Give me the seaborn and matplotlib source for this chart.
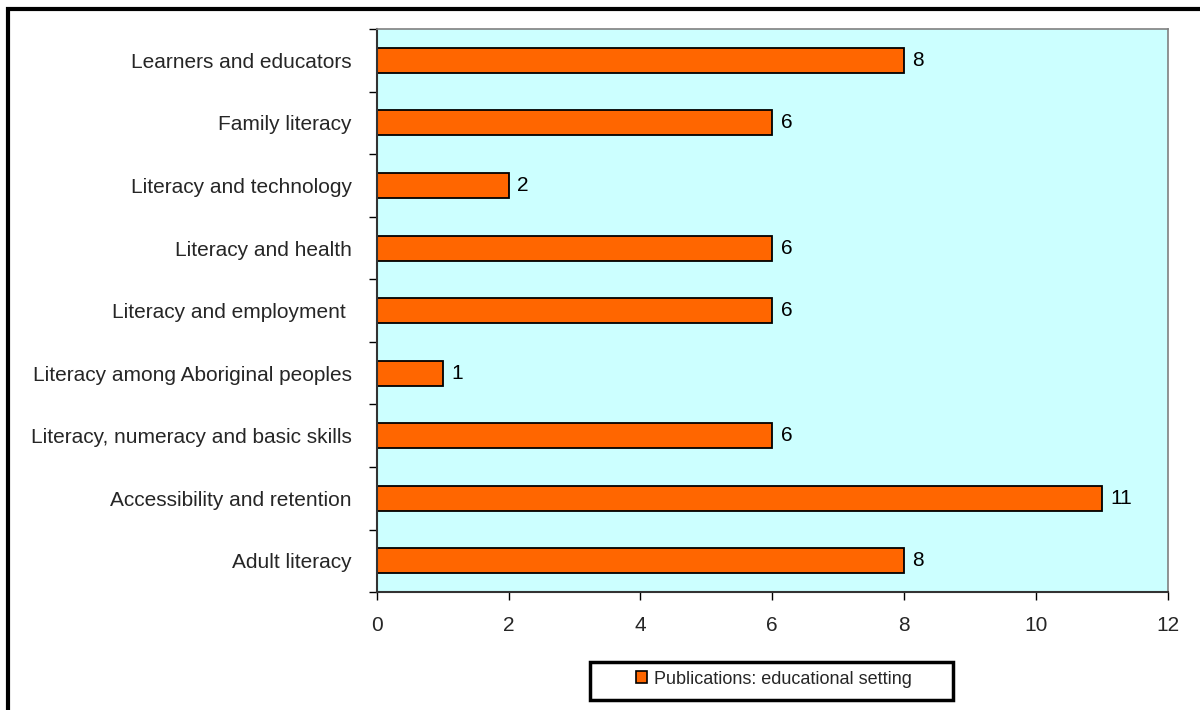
import matplotlib
matplotlib.use("Agg")
import matplotlib.pyplot as plt
import seaborn as sns
import pandas as pd
from matplotlib.patches import Rectangle, Patch
from matplotlib.ticker import FixedLocator

categories = [
    "Learners and educators",
    "Family literacy",
    "Literacy and technology",
    "Literacy and health",
    "Literacy and employment ",
    "Literacy among Aboriginal peoples",
    "Literacy, numeracy and basic skills",
    "Accessibility and retention",
    "Adult literacy",
]
values = [8, 6, 2, 6, 6, 1, 6, 11, 8]
series_name = "Publications: educational setting"
x_ticks = [0, 2, 4, 6, 8, 10, 12]

bar_color = "#FF6600"
plot_bg = "#CCFFFF"
fs = 15

sns.set_theme(style="white")
plt.rcParams["font.family"] = ["Liberation Sans", "DejaVu Sans"]
plt.rcParams["font.size"] = fs

df = pd.DataFrame({"category": categories, "value": values})

fig = plt.figure(figsize=(12, 7.1), dpi=100)
ax = fig.add_axes([0.314, 0.166, 0.659, 0.793])

sns.barplot(data=df, y="category", x="value", order=categories,
            color=bar_color, saturation=1, width=0.4,
            edgecolor="black", linewidth=1.3, ax=ax)

ax.set_facecolor(plot_bg)
ax.set_xlim(0, 12)
ax.set_ylim(len(categories) - 0.5, -0.5)
ax.set_xlabel("")
ax.set_ylabel("")
ax.set_xticks(x_ticks)
ax.set_xticklabels([str(t) for t in x_ticks], fontsize=fs)
ax.tick_params(axis="x", direction="out", length=6, width=1, color="black", pad=11, bottom=True)
ax.tick_params(axis="y", which="major", length=0, pad=18, labelsize=fs)
ax.yaxis.set_minor_locator(FixedLocator([i - 0.5 for i in range(len(categories) + 1)]))
ax.tick_params(axis="y", which="minor", direction="out", length=6, width=1, color="black", left=True)

for side in ["left", "bottom"]:
    ax.spines[side].set_color("#333333")
    ax.spines[side].set_linewidth(1.5)
for side in ["right", "top"]:
    ax.spines[side].set_color("#808080")
    ax.spines[side].set_linewidth(1.2)

for i, v in enumerate(values):
    ax.annotate(str(v), xy=(v, i), xytext=(6, 0), textcoords="offset points",
                va="center", ha="left", fontsize=fs, color="black")

# legend: wide boxed frame beneath the plot area
fig.patches.append(Rectangle((590 / 1200, 1 - 700 / 710), 363 / 1200, 38 / 710,
                             transform=fig.transFigure, facecolor="white",
                             edgecolor="black", linewidth=2.5, zorder=5))
handle = Patch(facecolor=bar_color, edgecolor="black", linewidth=1.2)
leg = fig.legend([handle], [series_name], loc="center",
                 bbox_to_anchor=(774 / 1200, 1 - 679 / 710), frameon=False,
                 fontsize=13, handlelength=0.62, handleheight=0.62,
                 handletextpad=0.4, borderpad=0.0, borderaxespad=0)
leg.set_zorder(6)

# outer chart frame (continues past the right and bottom edges)
fig.patches.append(Rectangle((0.007, -0.02), 1.05, 1.008, transform=fig.transFigure,
                             fill=False, edgecolor="black", linewidth=3, zorder=10))

fig.savefig("out.png", dpi=100)
